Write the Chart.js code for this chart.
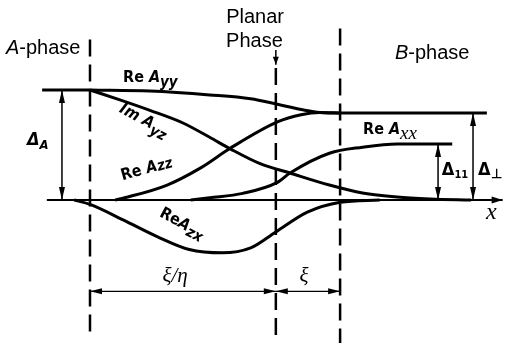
<!DOCTYPE html>
<html>
<head>
<meta charset="utf-8">
<script src="https://cdn.jsdelivr.net/npm/chart.js@4.4.1/dist/chart.umd.min.js"></script>
<style>
  html, body { margin: 0; padding: 0; background: #fff; }
  #wrap { width: 505px; height: 345px; }
</style>
</head>
<body>
<div id="wrap"><canvas id="diagram"></canvas></div>
<script>
// order-parameter components across the A / planar / B interface
// x in units (xi = 2, xi/eta = 6), y in units of Delta_A
const reAyy = [[0, 1], [1.9, 0.99], [3.8, 0.955], [5.1, 0.92], [5.95, 0.87], [6.75, 0.82], [7.3, 0.795], [7.95, 0.79], [12.6, 0.79]];
const imAyz = [[0, 1], [0.95, 0.91], [1.9, 0.815], [2.95, 0.7], [3.8, 0.57], [4.45, 0.465], [5.4, 0.33], [6.35, 0.245], [7.6, 0.136], [8.65, 0.064], [9.75, 0.027], [10.8, 0.01], [12.1, 0]];
const reAzz = [[0.8, 0], [1.1, 0.02], [2.45, 0.136], [3.5, 0.29], [4.45, 0.47], [5.95, 0.71], [6.7, 0.775], [7.3, 0.795], [7.95, 0.79]];
const reAxx = [[3.2, 0], [3.8, 0.02], [4.85, 0.06], [5.95, 0.16], [6.35, 0.245], [7.6, 0.425], [8.65, 0.48], [9.75, 0.51], [11.5, 0.51]];
const reAzx = [[-0.5, 0], [0, -0.04], [1.05, -0.18], [2.15, -0.335], [3.15, -0.45], [4.2, -0.48], [5.1, -0.435], [5.9, -0.29], [6.9, -0.11], [7.95, -0.02], [9.2, 0]];

// straight guide lines
const axisLine = [[-1.37, 0], [13.1, 0]];
const aLevel = [[-1.52, 1], [0, 1]];
const wallA = [[0, 1.46], [0, -1.2]];
const wallP = [[5.9, 1.2], [5.9, -1.29]];
const wallB = [[7.94, 1.56], [7.94, -1.3]];
const planarPointer = [[5.9, 1.364], [5.9, 1.23]];
const deltaA = [[-0.89, 0], [-0.89, 1]];
const deltaPar = [[11.05, 0], [11.05, 0.51]];
const deltaPerp = [[12.16, 0], [12.16, 0.79]];
const dimXiEta = [[0, -0.83], [5.9, -0.83]];
const dimXi = [[5.9, -0.83], [7.94, -0.83]];

const pts = arr => arr.map(([x, y]) => ({ x, y }));

function curve(arr, w) {
  return { data: pts(arr), showLine: true, borderColor: '#000', borderWidth: w, pointRadius: 0,
           cubicInterpolationMode: 'monotone', fill: false };
}
function line(arr, w, dash) {
  return { data: pts(arr), showLine: true, borderColor: '#000', borderWidth: w, pointRadius: 0,
           tension: 0, borderDash: dash || [], fill: false, borderCapStyle: 'butt' };
}

const SANS = '"Liberation Sans", Arial, sans-serif';
const NARROW = '"Liberation Sans Narrow", "DejaVu Sans Condensed", sans-serif';
const SERIF = '"Liberation Serif", "DejaVu Serif", serif';

// text: position (u, v) in chart units, rotation in degrees, pieces [text, font, dy]
const labels = [
  { u: -2.667, v: 1.327, parts: [['A', 'italic 20px ' + SANS], ['-phase', '20px ' + SANS]] },
  { u: 5.24, v: 1.609, align: 'center', parts: [['Planar', '20px ' + SANS]] },
  { u: 5.22, v: 1.395, align: 'center', parts: [['Phase', '20px ' + SANS]] },
  { u: 9.68, v: 1.282, parts: [['B', 'italic 20px ' + SANS], ['-phase', '20px ' + SANS]] },
  { u: 1.05, v: 1.073, parts: [['Re ', 'bold 16px ' + NARROW], ['A', 'bold italic 16px ' + NARROW], ['yy', 'bold italic 15px ' + NARROW, 5]] },
  { u: 1.65, v: 0.69, rot: 28, align: 'center', parts: [['Im ', 'bold italic 16px ' + NARROW], ['A', 'bold italic 16px ' + NARROW], ['yz', 'bold italic 15px ' + NARROW, 5]] },
  { u: 1.84, v: 0.245, rot: -16, align: 'center', parts: [['Re ', 'bold 16px ' + NARROW], ['A', 'bold italic 16px ' + NARROW], ['zz', 'bold italic 15px ' + NARROW, 1]] },
  { u: 8.67, v: 0.60, parts: [['Re ', 'bold 16px ' + NARROW], ['A', 'bold italic 16px ' + NARROW], ['xx', 'italic 19px ' + SERIF, 5]] },
  { u: 2.86, v: -0.25, rot: 28, align: 'center', parts: [['Re', 'bold 16px ' + NARROW], ['A', 'bold italic 16px ' + NARROW], ['zx', 'bold italic 15px ' + NARROW, 4]] },
  { u: -2.0, v: 0.5, parts: [['Δ', 'bold italic 18px ' + NARROW], ['A', 'bold italic 13px ' + NARROW, 4]] },
  { u: 11.17, v: 0.227, parts: [['Δ', 'bold 18px ' + NARROW], ['11', 'bold 11px ' + NARROW, 3]] },
  { u: 12.32, v: 0.227, parts: [['Δ', 'bold 18px ' + NARROW], ['⊥', 'bold 13px ' + SANS, 3]] },
  { u: 12.57, v: -0.173, parts: [['x', 'italic 24px ' + SERIF]] },
  { u: 2.3, v: -0.745, parts: [['ξ/η', 'italic 21px ' + SERIF]] },
  { u: 6.65, v: -0.745, parts: [['ξ', 'italic 21px ' + SERIF]] }
];

// arrow heads: [segment, at end?, at start?, length, half width]
const heads = [
  [axisLine, true, false, 11, 3.5],
  [planarPointer, true, false, 8, 3],
  [deltaA, true, true, 13, 3],
  [deltaPar, true, true, 13, 3],
  [deltaPerp, true, true, 13, 3],
  [dimXiEta, true, true, 12, 3],
  [dimXi, true, true, 12, 3]
];

const annotate = {
  id: 'annotate',
  afterDatasetsDraw(chart) {
    const { ctx, scales: { x, y } } = chart;
    ctx.save();
    ctx.fillStyle = '#000';
    heads.forEach(([seg, atEnd, atStart, len, hw]) => {
      const p0 = [x.getPixelForValue(seg[0][0]), y.getPixelForValue(seg[0][1])];
      const p1 = [x.getPixelForValue(seg[1][0]), y.getPixelForValue(seg[1][1])];
      if (atEnd) head(ctx, p1, p0, len, hw);
      if (atStart) head(ctx, p0, p1, len, hw);
    });
    labels.forEach(l => {
      const px = x.getPixelForValue(l.u), py = y.getPixelForValue(l.v);
      ctx.save();
      ctx.translate(px, py);
      if (l.rot) ctx.rotate(l.rot * Math.PI / 180);
      let total = 0;
      l.parts.forEach(p => { ctx.font = p[1]; total += ctx.measureText(p[0]).width; });
      let cx = l.align === 'center' ? -total / 2 : 0;
      ctx.textBaseline = 'alphabetic';
      l.parts.forEach(p => {
        ctx.font = p[1];
        ctx.fillText(p[0], cx, p[2] || 0);
        cx += ctx.measureText(p[0]).width;
      });
      ctx.restore();
    });
    ctx.restore();
  }
};

function head(ctx, tip, from, len, hw) {
  const dx = tip[0] - from[0], dy = tip[1] - from[1];
  const d = Math.hypot(dx, dy) || 1;
  const ux = dx / d, uy = dy / d;
  const bx = tip[0] - ux * len, by = tip[1] - uy * len;
  ctx.beginPath();
  ctx.moveTo(tip[0], tip[1]);
  ctx.lineTo(bx - uy * hw, by + ux * hw);
  ctx.lineTo(bx + uy * hw, by - ux * hw);
  ctx.closePath();
  ctx.fill();
}

new Chart(document.getElementById('diagram'), {
  type: 'scatter',
  data: {
    datasets: [
      line(axisLine, 2),
      line(aLevel, 3),
      line(wallA, 2.5, [17, 8]),
      line(wallP, 2.5, [17, 8]),
      line(wallB, 2.5, [17, 8]),
      line(planarPointer, 1.5),
      line(deltaA, 1.5),
      line(deltaPar, 1.5),
      line(deltaPerp, 1.5),
      line(dimXiEta, 1.2),
      line(dimXi, 1.2),
      curve(reAyy, 3),
      curve(imAyz, 3),
      curve(reAzz, 3),
      curve(reAxx, 3),
      curve(reAzx, 3)
    ]
  },
  options: {
    responsive: true,
    maintainAspectRatio: false,
    animation: false,
    layout: { padding: 0 },
    plugins: { legend: { display: false }, tooltip: { enabled: false } },
    scales: {
      x: { type: 'linear', display: false, min: -2.857, max: 13.175 },
      y: { type: 'linear', display: false, min: -1.318, max: 1.818 }
    }
  },
  plugins: [annotate]
});
</script>
</body>
</html>
